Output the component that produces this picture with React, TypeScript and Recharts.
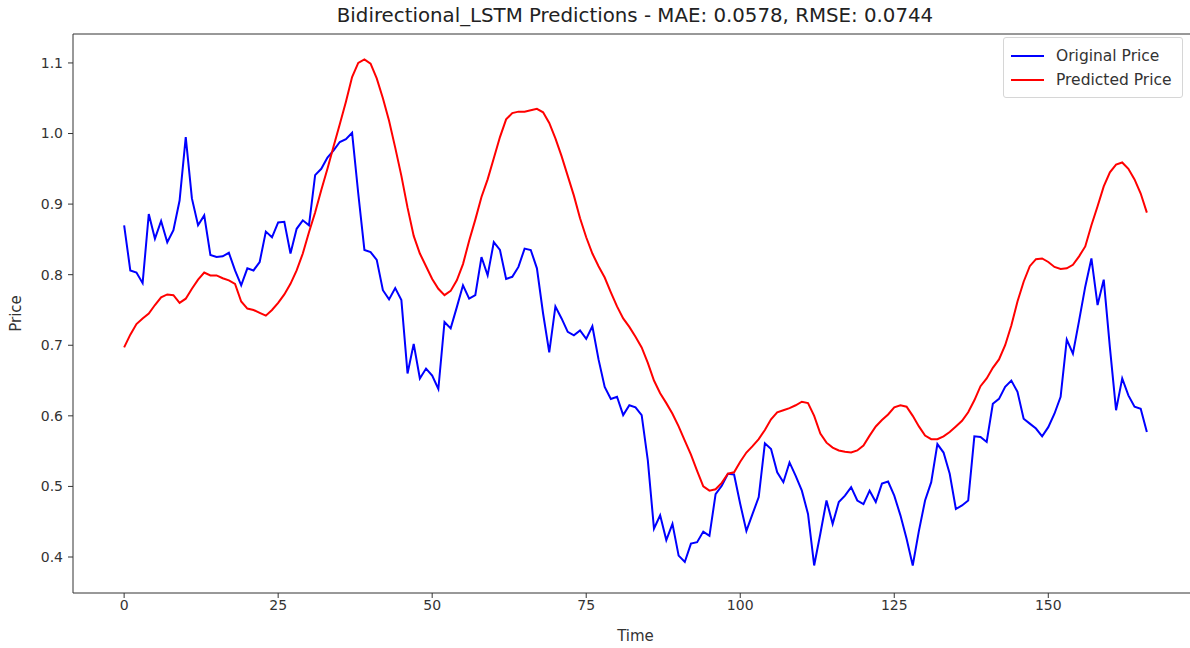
import { Line, LineChart, XAxis, YAxis } from "recharts";

// Original (actual) price, time steps 0..166
const originalPrice = [
  0.87, 0.806, 0.803, 0.788, 0.886, 0.851, 0.876, 0.846, 0.863, 0.905,
  0.995, 0.908, 0.87, 0.884, 0.828, 0.825, 0.826, 0.831, 0.806, 0.785,
  0.809, 0.806, 0.818, 0.861, 0.853, 0.874, 0.875, 0.83, 0.865, 0.877,
  0.87, 0.941, 0.95, 0.966, 0.976, 0.988, 0.992, 1.001, 0.915, 0.835,
  0.832, 0.821, 0.778, 0.765, 0.781, 0.764, 0.66, 0.702, 0.653, 0.667,
  0.657, 0.638, 0.733, 0.724, 0.754, 0.785, 0.766, 0.771, 0.825, 0.799,
  0.846, 0.835, 0.794, 0.797, 0.811, 0.837, 0.835, 0.809, 0.745, 0.69,
  0.755, 0.738, 0.719, 0.714, 0.721, 0.709, 0.727, 0.68, 0.641, 0.624,
  0.627, 0.601, 0.615, 0.612, 0.601, 0.537, 0.44, 0.459, 0.424, 0.447,
  0.402, 0.393, 0.419, 0.421, 0.436, 0.43, 0.489, 0.501, 0.518, 0.517,
  0.475, 0.437, 0.461, 0.485, 0.561, 0.553, 0.52, 0.506, 0.534, 0.515,
  0.494, 0.461, 0.388, 0.433, 0.48, 0.447, 0.478, 0.487, 0.499, 0.48,
  0.475, 0.494, 0.478, 0.504, 0.507, 0.487, 0.459, 0.426, 0.388, 0.437,
  0.48, 0.506, 0.56, 0.548, 0.518, 0.468, 0.473, 0.48, 0.571, 0.57,
  0.563, 0.617, 0.624, 0.641, 0.65, 0.634, 0.596, 0.589, 0.582, 0.571,
  0.584, 0.603, 0.627, 0.708, 0.688, 0.735, 0.783, 0.823, 0.757, 0.793,
  0.697, 0.608, 0.653, 0.629, 0.613, 0.61, 0.577,
];

// Model output, same time steps
const predictedPrice = [
  0.697, 0.715, 0.73, 0.738, 0.745, 0.757, 0.768, 0.772, 0.771, 0.76,
  0.766, 0.78, 0.793, 0.803, 0.799, 0.799, 0.795, 0.792, 0.787, 0.762,
  0.752, 0.75, 0.746, 0.742, 0.75, 0.76, 0.772, 0.787, 0.806, 0.83,
  0.86, 0.888, 0.92, 0.95, 0.982, 1.013, 1.045, 1.08, 1.1, 1.105,
  1.099, 1.078, 1.05, 1.018, 0.98, 0.94, 0.895, 0.855, 0.83, 0.812,
  0.794, 0.78, 0.771, 0.777, 0.792, 0.815, 0.848, 0.878, 0.91, 0.935,
  0.965, 0.995, 1.02, 1.029, 1.031, 1.031, 1.033, 1.035, 1.03, 1.015,
  0.993, 0.968, 0.94, 0.912, 0.88, 0.853, 0.83, 0.812, 0.796, 0.775,
  0.755, 0.738, 0.726, 0.712, 0.697, 0.675, 0.65, 0.632, 0.618, 0.603,
  0.585, 0.565, 0.545, 0.522, 0.5, 0.494, 0.496, 0.505, 0.518, 0.52,
  0.535, 0.548, 0.557, 0.567, 0.58, 0.595, 0.605, 0.608, 0.611, 0.615,
  0.62, 0.618, 0.6, 0.575, 0.562, 0.555, 0.551, 0.549, 0.548, 0.551,
  0.558, 0.572, 0.585, 0.594, 0.602, 0.612, 0.615, 0.613, 0.6, 0.585,
  0.572, 0.567, 0.567, 0.571, 0.577, 0.585, 0.593, 0.605, 0.622, 0.642,
  0.653, 0.668, 0.68, 0.7, 0.728, 0.762, 0.79, 0.812, 0.822, 0.823,
  0.818, 0.811, 0.808, 0.809, 0.814, 0.826, 0.84, 0.87, 0.897, 0.925,
  0.945, 0.956, 0.959, 0.95, 0.935, 0.915, 0.888,
];

const xTicks = [0, 25, 50, 75, 100, 125, 150];
const yTicks = [0.4, 0.5, 0.6, 0.7, 0.8, 0.9, 1.0, 1.1];

const seriesNames = ["Original Price", "Predicted Price"];
const seriesColors = ["#0000ff", "#ff0000"];

const data = originalPrice.map((v, i) => ({
  t: i,
  original: v,
  predicted: predictedPrice[i],
}));

const FONT = "'DejaVu Sans', sans-serif";
const AXIS = "#333";

// matplotlib-like default margins (5%)
const xDomain = [-8.3, 174.3];
const yDomain = [0.349, 1.141];

function LegendBox() {
  return (
    <div
      style={{
        position: "absolute",
        left: 1003,
        top: 37,
        width: 180,
        border: "1px solid #d6d6d6",
        borderRadius: 3,
        background: "rgba(255,255,255,0.8)",
        padding: "6px 6px 5px 7px",
        fontFamily: FONT,
        fontSize: 15.5,
        color: "#333",
        boxSizing: "border-box",
      }}
    >
      {seriesNames.map((name, i) => (
        <div
          key={name}
          style={{ display: "flex", alignItems: "center", height: 24 }}
        >
          <span
            style={{
              display: "inline-block",
              width: 33,
              height: 2,
              background: seriesColors[i],
              marginRight: 12,
            }}
          />
          <span style={{ whiteSpace: "nowrap" }}>{name}</span>
        </div>
      ))}
    </div>
  );
}

export default function App() {
  return (
    <div
      style={{
        position: "absolute",
        left: 0,
        top: 0,
        width: 1190,
        height: 648,
        overflow: "hidden",
        background: "#fff",
      }}
    >
      <div
        style={{
          position: "absolute",
          left: 135,
          top: 4,
          width: 1000,
          textAlign: "center",
          fontFamily: FONT,
          fontSize: 19.8,
          color: "#222",
        }}
      >
        Bidirectional_LSTM Predictions - MAE: 0.0578, RMSE: 0.0744
      </div>
      <LineChart
        width={1210}
        height={648}
        data={data}
        margin={{ top: 33, right: 12, bottom: 0, left: 0 }}
      >
        <XAxis
          dataKey="t"
          type="number"
          domain={xDomain}
          ticks={xTicks}
          allowDataOverflow
          height={55}
          tickSize={5}
          stroke={AXIS}
          tick={{ fill: "#333", fontSize: 14, fontFamily: FONT }}
          label={{
            value: "Time",
            position: "insideBottom",
            offset: 7,
            style: { fill: "#333", fontSize: 15, fontFamily: FONT },
          }}
        />
        <XAxis
          xAxisId="top"
          dataKey="t"
          orientation="top"
          type="number"
          domain={xDomain}
          allowDataOverflow
          height={1}
          tick={false}
          tickLine={false}
          axisLine={{ stroke: AXIS }}
        />
        <YAxis
          type="number"
          domain={yDomain}
          ticks={yTicks}
          allowDataOverflow
          width={73}
          tickSize={5}
          tickMargin={5}
          stroke={AXIS}
          tickFormatter={(v: number) => v.toFixed(1)}
          tick={{ fill: "#333", fontSize: 14, fontFamily: FONT }}
          label={{
            value: "Price",
            angle: -90,
            position: "insideLeft",
            offset: 16,
            style: {
              fill: "#333",
              fontSize: 15,
              fontFamily: FONT,
              textAnchor: "middle",
            },
          }}
        />
        <Line
          type="linear"
          dataKey="original"
          name={seriesNames[0]}
          stroke={seriesColors[0]}
          strokeWidth={2}
          dot={false}
          activeDot={false}
          isAnimationActive={false}
        />
        <Line
          type="linear"
          dataKey="predicted"
          name={seriesNames[1]}
          stroke={seriesColors[1]}
          strokeWidth={2}
          dot={false}
          activeDot={false}
          isAnimationActive={false}
        />
      </LineChart>
      <LegendBox />
    </div>
  );
}
